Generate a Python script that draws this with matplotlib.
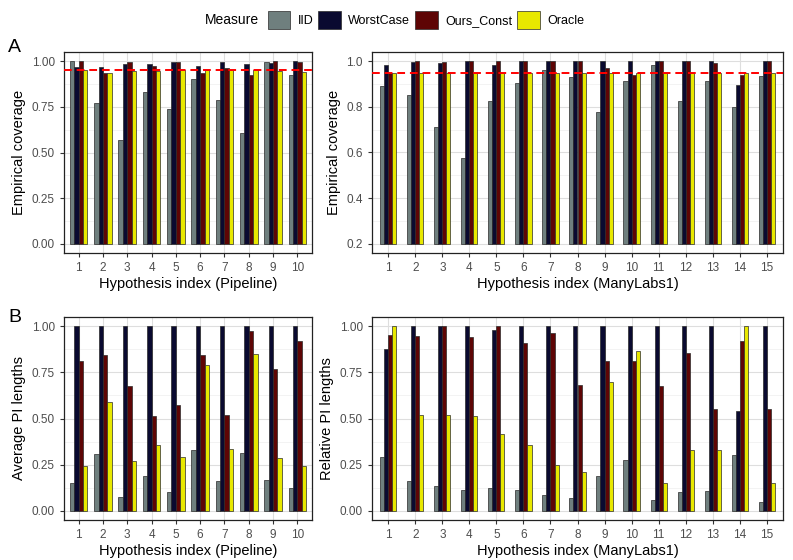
import matplotlib.pyplot as plt
import numpy as np
from matplotlib.patches import Patch

plt.rcParams.update({
    "font.family": ["Liberation Sans", "DejaVu Sans"],
    "axes.linewidth": 0.9,
    "axes.edgecolor": "#222222",
    "xtick.color": "#333333",
    "ytick.color": "#333333",
    "xtick.labelcolor": "#4D4D4D",
    "ytick.labelcolor": "#4D4D4D",
    "xtick.labelsize": 8.5,
    "ytick.labelsize": 8.5,
    "xtick.major.size": 3,
    "ytick.major.size": 3,
    "axes.labelsize": 10.5,
})

measures = ["IID", "WorstCase", "Ours_Const", "Oracle"]
colors = ["#6F7F7E", "#0A0A30", "#5E0505", "#E8E800"]

# Panel A, Pipeline (10 hypotheses)
cov_pipe = {
    "IID":        [1.00, 0.773, 0.569, 0.831, 0.736, 0.902, 0.787, 0.609, 0.995, 0.924],
    "WorstCase":  [0.969, 0.969, 0.987, 0.987, 0.996, 0.976, 0.996, 0.987, 0.991, 1.00],
    "Ours_Const": [1.00, 0.936, 0.995, 0.973, 0.996, 0.933, 0.962, 0.922, 1.00, 0.993],
    "Oracle":     [0.951, 0.936, 0.947, 0.944, 0.951, 0.951, 0.951, 0.951, 0.947, 0.942],
}
# Panel A, ManyLabs1 (15 hypotheses)
cov_many = {
    "IID":        [0.891, 0.85, 0.713, 0.575, 0.824, 0.905, 0.961, 0.932, 0.776, 0.913, 0.984, 0.824, 0.911, 0.798, 0.937],
    "WorstCase":  [0.981, 0.995, 0.993, 1.00, 0.984, 1.00, 1.00, 1.00, 1.00, 1.00, 1.00, 1.00, 1.00, 0.895, 1.00],
    "Ours_Const": [0.949, 1.00, 0.997, 1.00, 1.00, 1.00, 1.00, 1.00, 0.972, 0.94, 1.00, 1.00, 0.994, 0.939, 1.00],
    "Oracle":     [0.95, 0.95, 0.95, 0.95, 0.95, 0.95, 0.95, 0.95, 0.95, 0.95, 0.95, 0.95, 0.95, 0.95, 0.95],
}
# Panel B, Pipeline
len_pipe = {
    "IID":        [0.150, 0.306, 0.076, 0.190, 0.100, 0.332, 0.161, 0.313, 0.168, 0.123],
    "WorstCase":  [1.00, 1.00, 1.00, 1.00, 1.00, 1.00, 1.00, 1.00, 1.00, 1.00],
    "Ours_Const": [0.813, 0.844, 0.678, 0.514, 0.574, 0.842, 0.520, 0.976, 0.768, 0.922],
    "Oracle":     [0.241, 0.591, 0.272, 0.357, 0.293, 0.788, 0.337, 0.848, 0.288, 0.241],
}
# Panel B, ManyLabs1
len_many = {
    "IID":        [0.292, 0.16, 0.136, 0.112, 0.123, 0.112, 0.087, 0.071, 0.19, 0.277, 0.056, 0.103, 0.107, 0.303, 0.047],
    "WorstCase":  [0.875, 1.00, 1.00, 1.00, 0.98, 1.00, 1.00, 1.00, 1.00, 1.00, 1.00, 1.00, 1.00, 0.54, 1.00],
    "Ours_Const": [0.955, 0.947, 1.00, 0.944, 1.00, 0.908, 0.966, 0.679, 0.813, 0.81, 0.678, 0.857, 0.554, 0.922, 0.549],
    "Oracle":     [1.00, 0.52, 0.518, 0.513, 0.417, 0.355, 0.25, 0.208, 0.697, 0.866, 0.150, 0.33, 0.33, 1.00, 0.152],
}
target = 0.95


def draw_panel(ax, data, total_w, base, ylim, yticks, ylabels, xlabel, ylabel, hline=None):
    n = len(data["IID"])
    x = np.arange(1, n + 1)
    w = total_w / 4
    ax.set_axisbelow(True)
    for k, m in enumerate(measures):
        vals = np.array(data[m])
        ax.bar(x + (k - 1.5) * w, vals - base, w, bottom=base, color=colors[k],
               edgecolor="#2A2A2A", linewidth=0.5, zorder=3)
    if hline is not None:
        ax.axhline(hline, color="#FF0000", linestyle=(0, (4, 2.5)), linewidth=1.4, zorder=4)
    ax.set_xlim(0.4, n + 0.6)
    ax.set_ylim(*ylim)
    ax.set_xticks(x)
    ax.set_yticks(yticks)
    ax.set_yticklabels(ylabels)
    minor = (np.array(yticks[:-1]) + np.array(yticks[1:])) / 2
    ax.set_yticks(minor, minor=True)
    ax.tick_params(axis="y", which="minor", length=0)
    ax.grid(True, which="major", color="#DEDEDE", linewidth=0.8)
    ax.grid(True, which="minor", axis="y", color="#EFEFEF", linewidth=0.5)
    ax.set_xlabel(xlabel, labelpad=2)
    ax.set_ylabel(ylabel, labelpad=4)


fig = plt.figure(figsize=(7.93, 5.6), dpi=100)
W, H = 793, 560
def pos(l, r, t, b):
    return [l / W, 1 - b / H, (r - l) / W, (b - t) / H]

ax1 = fig.add_axes(pos(64, 312, 52, 253))
ax2 = fig.add_axes(pos(372, 783, 52, 253))
ax3 = fig.add_axes(pos(64, 312, 317, 520))
ax4 = fig.add_axes(pos(372, 783, 317, 520))

t_a = [0, 0.25, 0.5, 0.75, 1.0]
l_a = ["0.00", "0.25", "0.50", "0.75", "1.00"]
draw_panel(ax1, cov_pipe, 0.72, 0, (-0.05, 1.05), t_a, l_a,
           "Hypothesis index (Pipeline)", "Empirical coverage", hline=target)
draw_panel(ax2, cov_many, 0.6, 0.2, (0.16, 1.04), [0.2, 0.4, 0.6, 0.8, 1.0],
           ["0.2", "0.4", "0.6", "0.8", "1.0"],
           "Hypothesis index (ManyLabs1)", "Empirical coverage", hline=target)
draw_panel(ax3, len_pipe, 0.72, 0, (-0.05, 1.05), t_a, l_a,
           "Hypothesis index (Pipeline)", "Average PI lengths")
draw_panel(ax4, len_many, 0.6, 0, (-0.05, 1.05), t_a, l_a,
           "Hypothesis index (ManyLabs1)", "Relative PI lengths")

fig.text(8 / W, 1 - 48 / H, "A", fontsize=14, va="center", ha="left")
fig.text(8 / W, 1 - 317 / H, "B", fontsize=14, va="center", ha="left")

handles = [Patch(facecolor=c, edgecolor="#2A2A2A", linewidth=0.5) for c in colors]
fig.legend(handles, measures, loc="center", bbox_to_anchor=(426 / W, 1 - 20 / H),
           ncol=4, frameon=False, fontsize=9, handlelength=1.8, handleheight=1.9,
           columnspacing=0.4, handletextpad=0.6, borderpad=0.2)
fig.text(205 / W, 1 - 20 / H, "Measure", fontsize=10, va="center", ha="left")

fig.savefig("out.png", dpi=100)
